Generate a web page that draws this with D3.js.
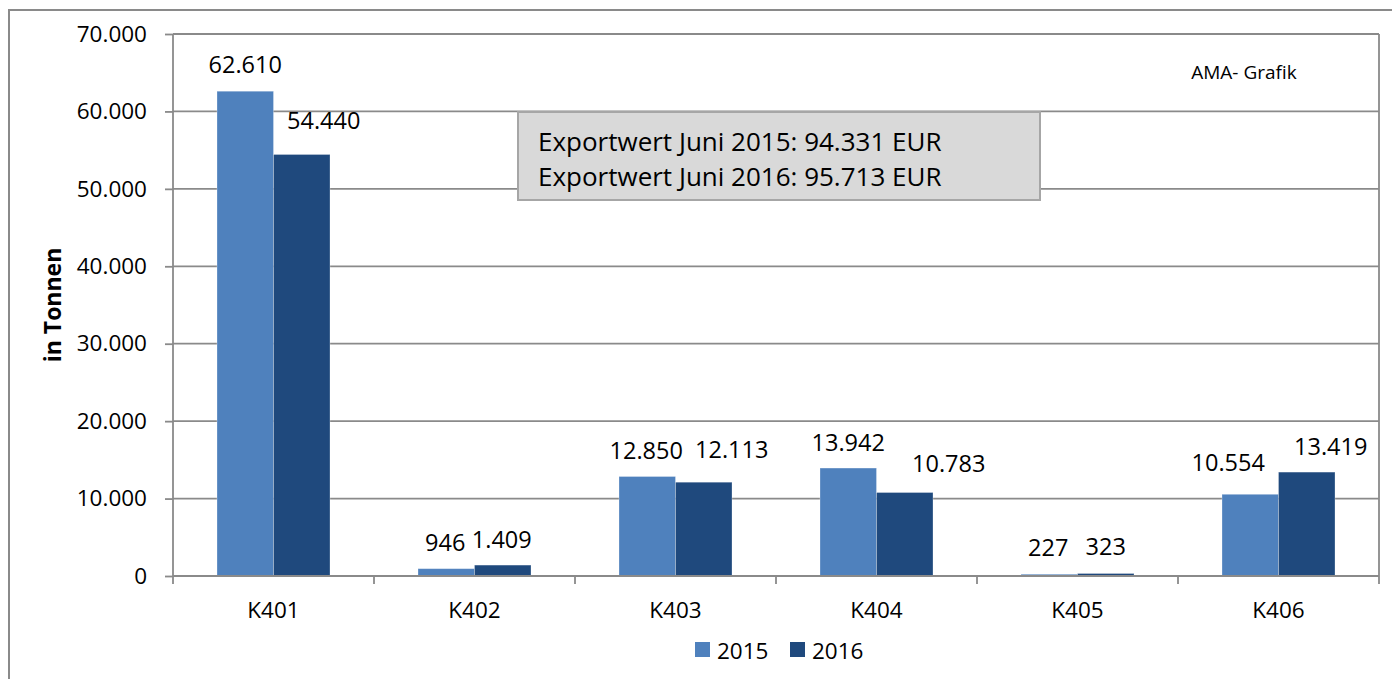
<!DOCTYPE html>
<html>
<head>
<meta charset="utf-8">
<script src="https://cdn.jsdelivr.net/npm/d3@7"></script>
<style>
  html, body { margin: 0; padding: 0; background: #ffffff; }
  svg { display: block; font-family: "Open Sans", Lato, sans-serif; }
</style>
</head>
<body>
<svg id="chart" width="1392" height="679"></svg>
<script>
// ---- data ----
const categories = ["K401", "K402", "K403", "K404", "K405", "K406"];
const seriesNames = ["2015", "2016"];
const values2015 = [62610, 946, 12850, 13942, 227, 10554];
const values2016 = [54440, 1409, 12113, 10783, 323, 13419];
const yTicks = [0, 10000, 20000, 30000, 40000, 50000, 60000, 70000];
const infoLines = ["Exportwert Juni 2015: 94.331 EUR", "Exportwert Juni 2016: 95.713 EUR"];
const axisTitle = "in Tonnen";
const creditText = "AMA- Grafik";
// manual label nudges (dx, dy in px) as placed in the original chart
const labelNudge2015 = [[0, 0], [-1, 0], [-1, 0], [0, 1], [-1, 0], [-22, -5]];
const labelNudge2016 = [[22, -7], [-1, 1], [28, -6], [44, -3], [0, 0], [24, 1]];

const colors = { "2015": "#4F81BD", "2016": "#1F497D" };
const gridColor = "#8a8a8a";
const textColor = "#000000";
const FONT = "'Open Sans', Lato, sans-serif";

const de = d3.formatLocale({ decimal: ",", thousands: ".", grouping: [3], currency: ["", " €"] });
const fmt = de.format(",d");

const svg = d3.select("#chart");

// outer chart border
svg.append("rect")
  .attr("x", 9).attr("y", 10).attr("width", 1400).attr("height", 700)
  .attr("fill", "none").attr("stroke", gridColor).attr("stroke-width", 2);

const plot = { left: 173, right: 1379, top: 34, bottom: 576 };

const x = d3.scaleBand().domain(categories).range([plot.left, plot.right]).paddingInner(0).paddingOuter(0);
const x1 = d3.scaleBand().domain(seriesNames).range([44, x.bandwidth() - 44]).padding(0);
const y = d3.scaleLinear().domain([0, 70000]).range([plot.bottom, plot.top]);

// gridlines
svg.append("g").selectAll("line").data(yTicks.filter(t => t > 0)).join("line")
  .attr("x1", plot.left).attr("x2", plot.right)
  .attr("y1", d => y(d)).attr("y2", d => y(d))
  .attr("stroke", gridColor).attr("stroke-width", 1.8);

// right border of plot area
svg.append("line")
  .attr("x1", plot.right).attr("x2", plot.right)
  .attr("y1", plot.top).attr("y2", plot.bottom)
  .attr("stroke", gridColor).attr("stroke-width", 1.8);

// bars
const rows = categories.map((c, i) => ({ cat: c, i, vals: [
  { s: "2015", v: values2015[i], n: labelNudge2015[i] },
  { s: "2016", v: values2016[i], n: labelNudge2016[i] }
]}));

const groups = svg.append("g").selectAll("g").data(rows).join("g")
  .attr("transform", d => `translate(${x(d.cat)},0)`);

groups.selectAll("rect").data(d => d.vals).join("rect")
  .attr("x", d => x1(d.s))
  .attr("y", d => y(d.v))
  .attr("width", x1.bandwidth())
  .attr("height", d => y(0) - y(d.v))
  .attr("fill", d => colors[d.s])
  .attr("stroke", "rgba(255,255,255,0.35)")
  .attr("stroke-width", 0.8);

groups.selectAll("text").data(d => d.vals).join("text")
  .attr("x", d => x1(d.s) + x1.bandwidth() / 2 + d.n[0])
  .attr("y", d => y(d.v) - 27 + d.n[1])
  .attr("text-anchor", "middle")
  .attr("dominant-baseline", "central")
  .attr("font-size", 23.5)
  .attr("fill", textColor)
  .text(d => fmt(d.v));

// y axis
const yAxis = d3.axisLeft(y).tickValues(yTicks).tickFormat(fmt).tickSize(8).tickPadding(18);
const gy = svg.append("g").attr("transform", `translate(${plot.left},0)`).call(yAxis);
gy.select(".domain").attr("stroke", gridColor).attr("stroke-width", 1.8)
  .attr("d", `M0,${plot.top}V${plot.bottom}`);
gy.selectAll(".tick line").attr("stroke", gridColor).attr("stroke-width", 1.8);
gy.selectAll(".tick text").attr("font-size", 22.5).attr("fill", textColor)
  .attr("font-family", FONT);

// x axis
const xAxis = d3.axisBottom(x).tickSize(0).tickPadding(26);
const gx = svg.append("g").attr("transform", `translate(0,${plot.bottom})`).call(xAxis);
gx.select(".domain").attr("stroke", gridColor).attr("stroke-width", 1.8)
  .attr("d", `M${plot.left},0H${plot.right}`);
gx.selectAll(".tick text").attr("font-size", 22.5).attr("fill", textColor)
  .attr("font-family", FONT).attr("dy", "0.71em");
// category boundary ticks
const bounds = categories.map(c => x(c)).concat([plot.right]);
gx.append("g").selectAll("line").data(bounds).join("line")
  .attr("x1", d => d).attr("x2", d => d).attr("y1", 0).attr("y2", 8)
  .attr("stroke", gridColor).attr("stroke-width", 1.8);

// top border of plot area
svg.append("line")
  .attr("x1", plot.left).attr("x2", plot.right)
  .attr("y1", plot.top).attr("y2", plot.top)
  .attr("stroke", gridColor).attr("stroke-width", 1.8);

// y axis title
svg.append("text")
  .attr("transform", `translate(52,305) rotate(-90)`)
  .attr("text-anchor", "middle").attr("dominant-baseline", "central")
  .attr("font-size", 23).attr("font-weight", "bold").attr("fill", textColor)
  .text(axisTitle);

// credit
svg.append("text")
  .attr("x", 1244).attr("y", 72)
  .attr("text-anchor", "middle").attr("dominant-baseline", "central")
  .attr("font-size", 19).attr("fill", textColor)
  .text(creditText);

// info box
const box = svg.append("g");
box.append("rect")
  .attr("x", 518).attr("y", 112).attr("width", 522).attr("height", 88)
  .attr("fill", "#D9D9D9").attr("stroke", "#A6A6A6").attr("stroke-width", 2);
box.selectAll("text").data(infoLines).join("text")
  .attr("x", 538).attr("y", (d, i) => 141 + i * 35)
  .attr("dominant-baseline", "central")
  .attr("font-size", 26).attr("fill", textColor)
  .text(d => d);

// legend
const legend = svg.append("g");
const legX = [695, 790];
seriesNames.forEach((s, i) => {
  legend.append("rect").attr("x", legX[i]).attr("y", 642).attr("width", 15).attr("height", 15)
    .attr("fill", colors[s]);
  legend.append("text").attr("x", legX[i] + 22).attr("y", 650)
    .attr("dominant-baseline", "central").attr("font-size", 22.5).attr("fill", textColor)
    .text(s);
});
</script>
</body>
</html>
